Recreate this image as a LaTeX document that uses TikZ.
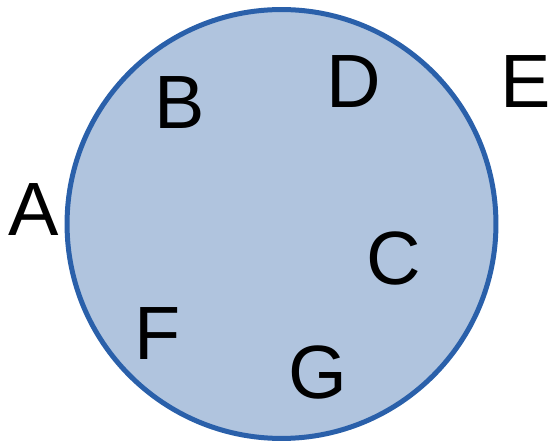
\documentclass[tikz,border=0pt]{standalone}
\usepackage{fontspec}
\setmainfont{Liberation Sans}
\usepackage{tikz}
\usetikzlibrary{positioning}
\usepackage{xcolor}
\definecolor{setfill}{RGB}{176,196,222}
\definecolor{setedge}{RGB}{42,96,170}

\begin{document}
\begin{tikzpicture}[x=0.02cm, y=-0.02cm,
  setcirc/.style={circle, minimum size=8.58cm, inner sep=0pt,
    draw=setedge, line width=0.1cm, fill=setfill},
  letter/.style={inner sep=0pt, font=\fontsize{43}{50}\selectfont, text=black}
]
\useasboundingbox (0,0) rectangle (550,445);
\node[setcirc] (set) at (281.5,224) {};
\node[letter] (A) at (34,210)  {A};
\node[letter] (B) at (180,103) {B};
\node[letter] (D) at (354,82)  {D};
\node[letter] (E) at (526,82)  {E};
\node[letter] (C) at (394,258) {C};
\node[letter] (F) at (158,334) {F};
\node[letter] (G) at (318,372) {G};
\end{tikzpicture}
\end{document}
